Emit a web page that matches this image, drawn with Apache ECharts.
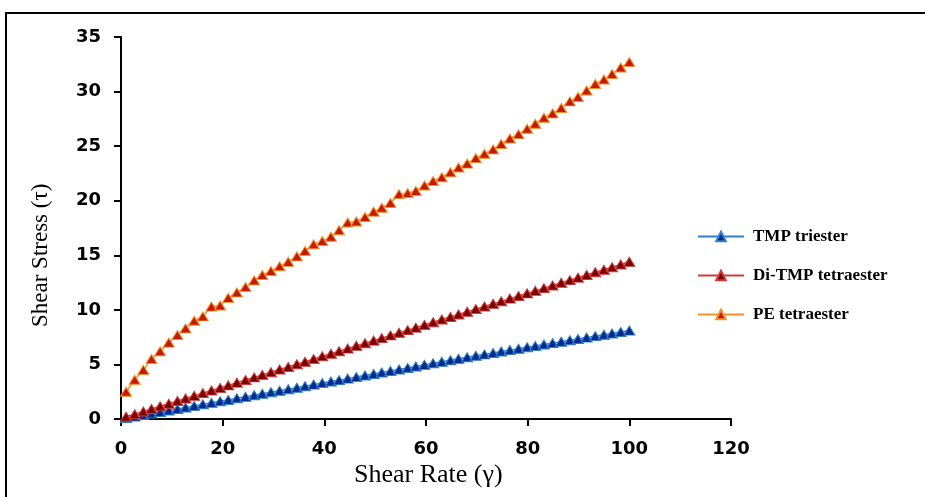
<!DOCTYPE html>
<html>
<head>
<meta charset="utf-8">
<script src="https://cdn.jsdelivr.net/npm/echarts@6/dist/echarts.min.js"></script>
<style>
html,body{margin:0;padding:0;background:#fff;}
#chart{width:925px;height:497px;}
</style>
</head>
<body>
<div id="chart"></div>
<script>
// Shear rate (x) values
const shearRate = [1.0, 2.7, 4.4, 6.0, 7.7, 9.4, 11.1, 12.7, 14.4, 16.1, 17.8, 19.5, 21.1, 22.8, 24.5, 26.2, 27.8, 29.5, 31.2, 32.9,
  34.6, 36.2, 37.9, 39.6, 41.3, 42.9, 44.6, 46.3, 48.0, 49.7, 51.3, 53.0, 54.7, 56.4, 58.0, 59.7, 61.4, 63.1, 64.8, 66.4,
  68.1, 69.8, 71.5, 73.2, 74.8, 76.5, 78.2, 79.9, 81.5, 83.2, 84.9, 86.6, 88.3, 89.9, 91.6, 93.3, 95.0, 96.6, 98.3, 100.0];

const tmpTriester = [0.08, 0.22, 0.37, 0.50, 0.64, 0.78, 0.92, 1.05, 1.20, 1.34, 1.48, 1.62, 1.75, 1.89, 2.03, 2.17, 2.31, 2.45, 2.59, 2.73,
  2.87, 3.00, 3.15, 3.29, 3.43, 3.56, 3.70, 3.84, 3.98, 4.13, 4.26, 4.40, 4.54, 4.68, 4.81, 4.96, 5.10, 5.24, 5.38, 5.51,
  5.65, 5.79, 5.92, 6.05, 6.18, 6.31, 6.44, 6.57, 6.69, 6.82, 6.95, 7.08, 7.21, 7.33, 7.46, 7.59, 7.72, 7.84, 7.97, 8.10];

const diTmpTetraester = [0.20, 0.44, 0.69, 0.92, 1.16, 1.40, 1.65, 1.88, 2.12, 2.37, 2.61, 2.85, 3.08, 3.33, 3.57, 3.81, 4.04, 4.29, 4.53, 4.77,
  5.02, 5.25, 5.49, 5.74, 5.98, 6.21, 6.45, 6.70, 6.94, 7.18, 7.41, 7.66, 7.90, 8.14, 8.37, 8.62, 8.86, 9.11, 9.35, 9.58,
  9.82, 10.07, 10.31, 10.55, 10.78, 11.03, 11.27, 11.51, 11.74, 11.99, 12.23, 12.48, 12.72, 12.95, 13.19, 13.44, 13.68, 13.91, 14.15, 14.40];

const peTetraester = [2.5, 3.6, 4.5, 5.5, 6.2, 7.0, 7.7, 8.3, 9.0, 9.4, 10.3, 10.4, 11.1, 11.6, 12.1, 12.7, 13.2, 13.55, 14.0, 14.4,
  14.9, 15.4, 16.0, 16.3, 16.7, 17.3, 18.0, 18.1, 18.5, 19.0, 19.35, 19.8, 20.6, 20.7, 20.9, 21.4, 21.8, 22.15, 22.6, 23.05,
  23.4, 23.9, 24.3, 24.7, 25.2, 25.7, 26.1, 26.6, 27.05, 27.6, 28.0, 28.5, 29.1, 29.5, 30.1, 30.7, 31.1, 31.6, 32.2, 32.7];

const seriesNames = ['TMP triester', 'Di-TMP tetraester', 'PE tetraester'];
const xAxisTitle = 'Shear Rate (γ)';
const yAxisTitle = 'Shear Stress (τ)';

function pairs(ys) { return shearRate.map((x, i) => [x, ys[i]]); }

const chart = echarts.init(document.getElementById('chart'), null, {renderer: 'canvas'});

const labelFont = {fontFamily: 'DejaVu Sans', fontWeight: 'bold', fontSize: 18, color: '#000'};

function lineSeries(name, ys, lineColor, markColor) {
  return {
    name: name,
    type: 'line',
    data: pairs(ys),
    symbol: 'triangle',
    symbolSize: [11, 9],
    showSymbol: true,
    showAllSymbol: true,
    lineStyle: {color: lineColor, width: 1.5},
    itemStyle: {color: markColor, borderColor: lineColor, borderWidth: 1},
    emphasis: {disabled: true}
  };
}

chart.setOption({
  animation: false,
  backgroundColor: '#fff',
  grid: {left: 121, right: 194, top: 37, bottom: 78},
  legend: {
    orient: 'vertical',
    left: 697,
    top: 228,
    padding: 0,
    itemWidth: 46,
    itemHeight: 12,
    itemGap: 22,
    data: seriesNames,
    textStyle: {fontFamily: 'Liberation Serif', fontWeight: 'bold', fontSize: 17, color: '#000', padding: [0, 0, 0, 4]}
  },
  xAxis: {
    type: 'value',
    min: 0, max: 120, interval: 20,
    axisLine: {show: true, lineStyle: {color: '#000', width: 2}},
    axisTick: {show: true, length: 7, lineStyle: {color: '#000', width: 2}},
    axisLabel: Object.assign({margin: 21}, labelFont),
    splitLine: {show: false}
  },
  yAxis: {
    type: 'value',
    min: 0, max: 35, interval: 5,
    axisLine: {show: true, lineStyle: {color: '#000', width: 2}},
    axisTick: {show: true, length: 7, lineStyle: {color: '#000', width: 2}},
    axisLabel: Object.assign({margin: 20}, labelFont),
    splitLine: {show: false}
  },
  graphic: [
    {type: 'rect', shape: {x: 6, y: 13, width: 1000, height: 600}, style: {fill: 'none', stroke: '#000', lineWidth: 2}, z: -1},
    {type: 'text', left: 354, top: 462, style: {text: xAxisTitle, font: '26px "Liberation Serif"', fill: '#000'}},
    {type: 'text', x: 29, y: 327, rotation: Math.PI / 2, style: {text: yAxisTitle, font: '23px "Liberation Serif"', fill: '#000', textAlign: 'left', textVerticalAlign: 'top'}}
  ],
  series: [
    lineSeries(seriesNames[0], tmpTriester, '#2f7fc8', '#002a8f'),
    lineSeries(seriesNames[1], diTmpTetraester, '#d03a3a', '#7a0000'),
    lineSeries(seriesNames[2], peTetraester, '#f5902a', '#c41a00')
  ]
});
</script>
</body>
</html>
